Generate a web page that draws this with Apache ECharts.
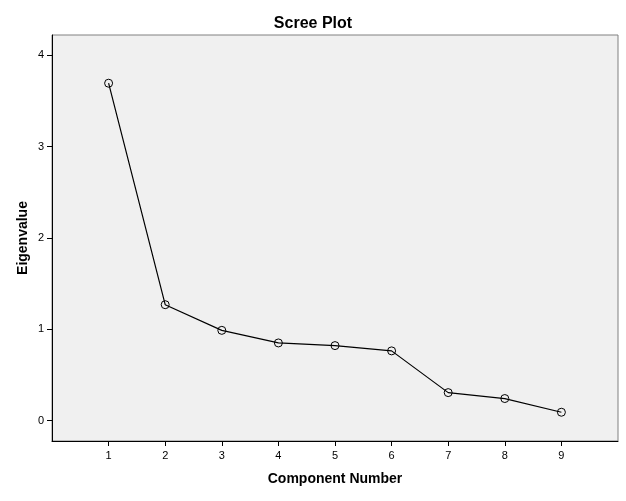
<!DOCTYPE html>
<html>
<head>
<meta charset="utf-8">
<script src="https://cdn.jsdelivr.net/npm/echarts@6/dist/echarts.min.js"></script>
<style>html,body{margin:0;padding:0;background:#fff;}#c{width:626px;height:501px;}</style>
</head>
<body>
<div id="c"></div>
<script>
const components = [1, 2, 3, 4, 5, 6, 7, 8, 9];
const eigenvalues = [3.695, 1.269, 0.988, 0.850, 0.821, 0.763, 0.306, 0.241, 0.091];
const yTicks = [0, 1, 2, 3, 4];
const xTicks = [1, 2, 3, 4, 5, 6, 7, 8, 9];

const chart = echarts.init(document.getElementById('c'), null, {renderer: 'canvas'});
const font = 'Liberation Sans, Arial, sans-serif';
chart.setOption({
  animation: false,
  backgroundColor: '#ffffff',
  title: {
    text: 'Scree Plot', left: 'center', top: 11,
    textStyle: {fontFamily: font, fontSize: 16, fontWeight: 'bold', color: '#000'}
  },
  grid: {
    left: 52, right: 8, top: 35, bottom: 60,
    show: true, backgroundColor: '#f0f0f0', borderColor: '#808080', borderWidth: 1
  },
  xAxis: {
    type: 'value', min: 0, max: 10,
    name: 'Component Number', nameLocation: 'middle', nameGap: 31,
    nameTextStyle: {fontFamily: font, fontSize: 14, fontWeight: 'bold', color: '#000'},
    axisLine: {show: true, onZero: false, lineStyle: {color: '#000', width: 1}},
    axisTick: {show: true, customValues: xTicks, length: 5, lineStyle: {color: '#000'}},
    axisLabel: {customValues: xTicks, fontFamily: font, fontSize: 11, color: '#000', margin: 9},
    splitLine: {show: false}
  },
  yAxis: {
    type: 'value', min: -0.224, max: 4.223,
    name: 'Eigenvalue', nameLocation: 'middle', nameGap: 22, nameRotate: 90,
    nameMoveOverlap: false,
    nameTextStyle: {fontFamily: font, fontSize: 14, fontWeight: 'bold', color: '#000'},
    axisLine: {show: true, onZero: false, lineStyle: {color: '#000', width: 1}},
    axisTick: {show: true, customValues: yTicks, length: 5, lineStyle: {color: '#000'}},
    axisLabel: {customValues: yTicks, fontFamily: font, fontSize: 11, color: '#000', margin: 8},
    splitLine: {show: false}
  },
  series: [{
    type: 'line',
    data: components.map((c, i) => [c, eigenvalues[i]]),
    symbol: 'circle', symbolSize: 8,
    lineStyle: {color: '#000', width: 1.2},
    itemStyle: {color: 'rgba(0,0,0,0)', borderColor: '#000', borderWidth: 1},
    z: 3
  }]
});
</script>
</body>
</html>
